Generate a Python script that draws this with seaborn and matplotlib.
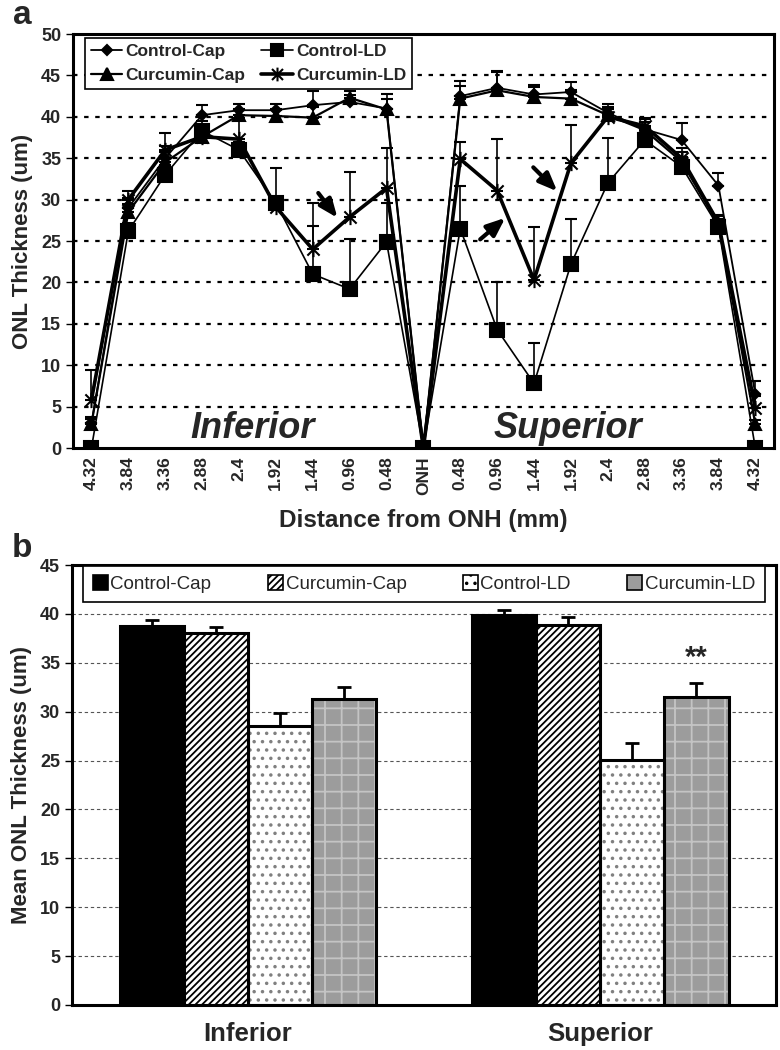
import numpy as np
import pandas as pd
import matplotlib
matplotlib.use("Agg")
import matplotlib.pyplot as plt
from matplotlib.path import Path
from matplotlib.patches import Patch, Rectangle
from matplotlib.lines import Line2D
import seaborn as sns

# ---------------- data ----------------
dist_labels = ['4.32', '3.84', '3.36', '2.88', '2.4', '1.92', '1.44', '0.96', '0.48', 'ONH',
               '0.48', '0.96', '1.44', '1.92', '2.4', '2.88', '3.36', '3.84', '4.32']

control_cap = [3.0, 29.0, 35.0, 40.2, 40.8, 40.8, 41.4, 41.8, 41.0, 0,
               42.5, 43.5, 42.7, 43.0, 40.5, 38.5, 37.2, 31.7, 6.5]
control_cap_err = [0.8, 1.2, 1.5, 1.2, 0.7, 0.8, 1.7, 0.8, 1.8, 0,
                   1.8, 2.0, 1.2, 1.2, 1.0, 1.2, 2.0, 1.5, 1.6]

control_ld = [0, 26.2, 33.0, 38.3, 36.0, 29.6, 21.0, 19.2, 24.9, 0,
              26.5, 14.3, 7.8, 22.2, 32.0, 37.2, 34.0, 26.7, 0]
control_ld_err = [0, 1.0, 1.2, 1.2, 1.0, 4.2, 8.6, 6.0, 4.7, 0,
                  5.2, 5.8, 4.9, 5.4, 5.5, 1.5, 1.2, 1.0, 0]

curcumin_cap = [2.9, 28.5, 34.5, 37.6, 40.2, 40.1, 39.9, 42.3, 40.9, 0,
                42.2, 43.2, 42.4, 42.2, 40.2, 38.4, 34.6, 27.0, 2.9]
curcumin_cap_err = [0.6, 1.0, 1.2, 1.0, 0.8, 0.8, 1.3, 0.8, 1.2, 0,
                    1.5, 2.2, 1.2, 1.0, 1.0, 1.0, 1.2, 1.0, 0.5]

curcumin_ld = [5.8, 30.0, 36.0, 37.6, 37.3, 29.1, 24.0, 27.9, 31.4, 0,
               34.9, 31.1, 20.3, 34.4, 40.0, 38.9, 35.0, 27.2, 4.8]
curcumin_ld_err = [3.6, 1.0, 2.0, 1.0, 2.5, 1.0, 2.8, 5.4, 4.8, 0,
                   2.0, 6.2, 6.4, 4.6, 1.0, 1.0, 1.2, 1.0, 1.5]

regions = ['Inferior', 'Superior']
groups = ['Control-Cap', 'Curcumin-Cap', 'Control-LD', 'Curcumin-LD']
mean_inferior = [38.8, 38.0, 28.5, 31.3]
mean_superior = [39.9, 38.9, 25.1, 31.5]
sem_inferior = [0.6, 0.7, 1.4, 1.2]
sem_superior = [0.5, 0.8, 1.7, 1.4]

# ---------------- style ----------------
sns.set_style('white')
plt.rcParams['font.family'] = ['Liberation Sans', 'DejaVu Sans']
plt.rcParams['hatch.linewidth'] = 1.3

fig = plt.figure(figsize=(7.8, 10.5), dpi=100)
ax1 = fig.add_axes([0.0936, 0.5733, 0.8984, 0.3943])
ax2 = fig.add_axes([0.0923, 0.0429, 0.9026, 0.4190])

# ---------------- panel a ----------------
pos = np.arange(len(dist_labels))
star_marker = Path([(-1, -1), (1, 1), (-1, 1), (1, -1), (0, -1.25), (0, 1.25)],
                   [Path.MOVETO, Path.LINETO, Path.MOVETO, Path.LINETO, Path.MOVETO, Path.LINETO])

series = [
    ('Control-Cap', control_cap, control_cap_err, dict(marker='D', markersize=5.5, lw=1.3)),
    ('Control-LD', control_ld, control_ld_err, dict(marker='s', markersize=10, lw=1.2)),
    ('Curcumin-Cap', curcumin_cap, curcumin_cap_err, dict(marker='^', markersize=9, lw=1.6)),
    ('Curcumin-LD', curcumin_ld, curcumin_ld_err, dict(marker=star_marker, markersize=11, lw=2.6)),
]

handles = {}
for name, vals, err, st in series:
    df = pd.DataFrame({'pos': pos, 'val': vals})
    sns.lineplot(data=df, x='pos', y='val', ax=ax1, color='black', lw=st['lw'],
                 marker=st['marker'], markersize=st['markersize'],
                 markerfacecolor='black', markeredgecolor='black', markeredgewidth=1.5,
                 errorbar=None, sort=False, zorder=3)
    ax1.errorbar(pos, vals, yerr=[np.zeros(len(err)), err], fmt='none', ecolor='black',
                 elinewidth=1.2, capsize=4, capthick=1.5, zorder=2)
    handles[name] = Line2D([], [], color='black', lw=st['lw'], marker=st['marker'],
                           markersize=st['markersize'] * 0.9, markerfacecolor='black',
                           markeredgecolor='black', markeredgewidth=1.5)

ax1.set_xlim(-0.5, len(dist_labels) - 0.5)
ax1.set_ylim(0, 50)
ax1.set_yticks(np.arange(0, 51, 5))
ax1.set_yticklabels([str(v) for v in range(0, 51, 5)], fontsize=13, fontweight='bold')
ax1.set_xticks(pos)
ax1.set_xticklabels(dist_labels, rotation=90, fontsize=12.5, fontweight='bold')
ax1.set_xticks(np.arange(-0.5, len(dist_labels), 1), minor=True)
ax1.tick_params(axis='x', which='major', length=0, pad=6)
ax1.tick_params(axis='x', which='minor', length=5, width=1, direction='out', color='black')
ax1.tick_params(axis='y', which='major', length=5, width=1, direction='out', color='black', left=True)
for yv in range(5, 50, 5):
    ax1.axhline(yv, color='black', ls=(0, (2, 3)), lw=1.6, zorder=0)
for s in ax1.spines.values():
    s.set_linewidth(2.2)
    s.set_color('black')
ax1.set_xlabel('Distance from ONH (mm)', fontsize=17.5, fontweight='bold', labelpad=10)
ax1.set_ylabel('ONL Thickness (um)', fontsize=16, fontweight='bold', labelpad=6)

ax1.text(4.36, 2.4, 'Inferior', fontsize=26, fontweight='bold', style='italic',
         ha='center', va='center', zorder=4)
ax1.text(12.93, 2.4, 'Superior', fontsize=26, fontweight='bold', style='italic',
         ha='center', va='center', zorder=4)

arrow_kw = dict(arrowstyle='-|>,head_length=1.1,head_width=0.45', lw=3.0, color='black',
                shrinkA=0, shrinkB=0)
ax1.annotate('', xy=(6.67, 27.8), xytext=(6.15, 30.8), arrowprops=arrow_kw, zorder=5)
ax1.annotate('', xy=(12.63, 31.0), xytext=(11.98, 33.9), arrowprops=arrow_kw, zorder=5)
ax1.annotate('', xy=(11.22, 27.8), xytext=(10.54, 25.2), arrowprops=arrow_kw, zorder=5)

leg1 = ax1.legend([handles['Control-Cap'], handles['Curcumin-Cap'],
                   handles['Control-LD'], handles['Curcumin-LD']],
                  ['Control-Cap', 'Curcumin-Cap', 'Control-LD', 'Curcumin-LD'],
                  ncol=2, loc='upper left', bbox_to_anchor=(0.017, 0.99),
                  prop=dict(weight='bold', size=12.5), frameon=True, fancybox=False,
                  edgecolor='black', framealpha=1, handlelength=1.8, handletextpad=0.2,
                  columnspacing=0.9, borderpad=0.35, labelspacing=0.5, borderaxespad=0)
leg1.get_frame().set_linewidth(1.2)

fig.text(0.017, 0.985, 'a', fontsize=24, fontweight='bold', va='center')

# ---------------- panel b ----------------
bar_df = pd.DataFrame({
    'region': np.repeat(regions, len(groups)),
    'group': groups * len(regions),
    'mean': mean_inferior + mean_superior,
    'sem': sem_inferior + sem_superior,
})
palette = {'Control-Cap': 'black', 'Curcumin-Cap': 'white', 'Control-LD': 'white',
           'Curcumin-LD': '#9c9c9c'}
sns.barplot(data=bar_df, x='region', y='mean', hue='group', hue_order=groups,
            order=regions, palette=palette, saturation=1, width=0.73, gap=0,
            errorbar=None, edgecolor='black', linewidth=2.2, ax=ax2, legend=False, zorder=2)
bar_conts = list(ax2.containers)

overlay_hatch = {'Control-LD': ('..', '#808080'), 'Curcumin-LD': ('+', '#c4c4c4')}
sup_x = None
for cont, g in zip(bar_conts, groups):
    sub = bar_df[bar_df['group'] == g].set_index('region').loc[regions]
    xs = []
    for p in cont.patches:
        p.set_zorder(2.2)
        if g == 'Curcumin-Cap':
            p.set_hatch('/////')
        if g in overlay_hatch:
            h, hc = overlay_hatch[g]
            bx, by, bw, bh = p.get_x(), p.get_y(), p.get_width(), p.get_height()
            ax2.add_patch(Rectangle((bx, by), bw, bh, facecolor=palette[g], lw=0, zorder=2.0))
            ax2.add_patch(Rectangle((bx, by), bw, bh, facecolor='none', edgecolor=hc,
                                    hatch=h, lw=0, zorder=2.1))
            p.set_facecolor('none')
        xs.append(p.get_x() + p.get_width() / 2)
    ax2.errorbar(xs, sub['mean'].values, yerr=[np.zeros(len(xs)), sub['sem'].values],
                 fmt='none', ecolor='black', elinewidth=2, capsize=5, capthick=2, zorder=3)
    if g == 'Curcumin-LD':
        sup_x = xs[1]

ax2.text(sup_x, 35.5, '**', fontsize=21, fontweight='bold', ha='center', va='center')

ax2.set_xlim(-0.5, 1.5)
ax2.set_ylim(0, 45)
ax2.set_yticks(np.arange(0, 46, 5))
ax2.set_yticklabels([str(v) for v in range(0, 46, 5)], fontsize=13, fontweight='bold')
ax2.set_xticks([0, 1])
ax2.set_xticklabels(regions, fontsize=18.5, fontweight='bold')
ax2.set_xticks([-0.5, 0.5, 1.5], minor=True)
ax2.tick_params(axis='x', which='major', length=0, pad=12)
ax2.tick_params(axis='x', which='minor', length=6, width=1, direction='out', color='black')
ax2.tick_params(axis='y', which='major', length=5, width=1, direction='out', color='black', left=True)
for yv in range(5, 45, 5):
    ax2.axhline(yv, color='#555555', ls=(0, (3, 2.5)), lw=0.8, zorder=0)
for s in ax2.spines.values():
    s.set_linewidth(2.2)
    s.set_color('black')
ax2.set_xlabel('')
ax2.set_ylabel('Mean ONL Thickness (um)', fontsize=16, fontweight='bold', labelpad=6)

leg_hatch = {'Control-Cap': None, 'Curcumin-Cap': '/////', 'Control-LD': '..', 'Curcumin-LD': None}
leg_handles = [Patch(facecolor=palette[g], edgecolor='black', hatch=leg_hatch[g], lw=1.2)
               for g in groups]
leg2 = ax2.legend(leg_handles, groups, ncol=4, loc='lower left',
                  bbox_to_anchor=(0.016, 0.915, 0.968, 0.072), mode='expand',
                  prop=dict(size=13.5), frameon=True, fancybox=False, edgecolor='black',
                  framealpha=1, handlelength=0.8, handleheight=0.8, handletextpad=0.15,
                  borderpad=0.5, borderaxespad=0)
leg2.get_frame().set_linewidth(1.2)

fig.text(0.015, 0.478, 'b', fontsize=24, fontweight='bold', va='center')

fig.savefig('out.png', dpi=100)
